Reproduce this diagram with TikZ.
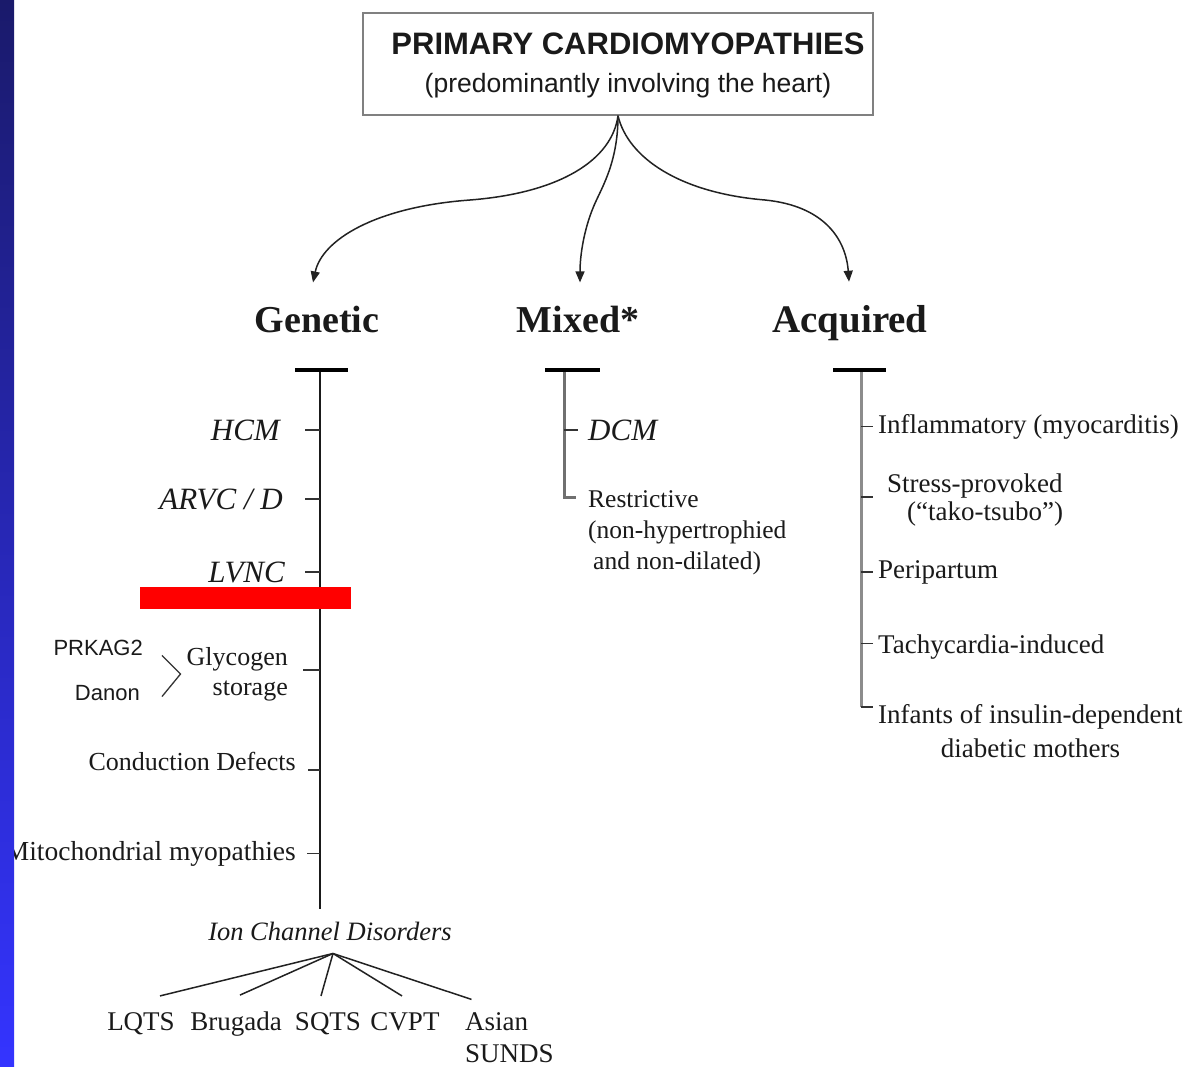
\documentclass[tikz,border=0pt]{standalone}
\usepackage{fontspec}
\setmainfont{Liberation Serif}
\setsansfont{Liberation Sans}
\usetikzlibrary{arrows.meta}
\definecolor{txt}{HTML}{1A1A1A}
\definecolor{lin}{HTML}{222222}
\definecolor{tk}{HTML}{333333}
\definecolor{gsp}{HTML}{1A1A1A}
\definecolor{msp}{HTML}{707070}
\definecolor{asp}{HTML}{8C8C8C}
\definecolor{boxline}{HTML}{808080}
\definecolor{stripTop}{HTML}{1A1A6B}
\definecolor{stripBot}{HTML}{3434FF}
\begin{document}
\begin{tikzpicture}[x=1pt,y=-1pt,
  lab/.style={inner sep=0pt, text=txt, font=\fontsize{26}{30}\selectfont},
  itl/.style={lab, font=\fontsize{31}{36}\selectfont\itshape},
  acql/.style={lab, font=\fontsize{27}{28}\selectfont},
  head/.style={inner sep=0pt, text=txt, font=\fontsize{38}{44}\selectfont\bfseries},
  sfl/.style={lab, font=\fontsize{22}{26}\selectfont\sffamily},
  titlebox/.style={draw=boxline, line width=1.5pt, fill=white, inner sep=0pt,
    minimum width=510pt, minimum height=102pt, text=txt,
    font=\fontsize{26.5}{38}\selectfont\sffamily},
  arr/.style={draw=lin, line width=1.5pt, -{Triangle[width=9pt,length=11pt]}},
  tbar/.style={draw=black, line width=4.5pt},
  tick/.style={draw=tk, line width=1.6pt},
  fan/.style={draw=lin, line width=1.5pt},
  brace/.style={draw=tk, line width=1.3pt},
  gspine/.style={draw=gsp, line width=2pt},
  mspine/.style={draw=msp, line width=3pt},
  aspine/.style={draw=asp, line width=3pt},
]
\fill[white] (0,0) rectangle (1186,1067);
\useasboundingbox (0,0) rectangle (1186,1067);

% ---------- title ----------
\node[titlebox] (title) at (618,64) {\begin{tabular}{@{\hspace{20pt}}c@{}}\rule{0pt}{31.4pt}{\fontsize{31}{38}\selectfont\bfseries PRIMARY CARDIOMYOPATHIES}\\(predominantly involving the heart)\end{tabular}};

% ---------- headings ----------
\node[head, anchor=base] (gen) at (317,332) {Genetic};
\node[head, anchor=base] (mix) at (578,332) {Mixed*};
\node[head, anchor=base, font=\fontsize{39}{44}\selectfont\bfseries] (acq) at (850,332) {Acquired};

\draw[arr] (title.south) .. controls (612,160) and (560,193) .. (470,200)
  .. controls (375,207) and (322,240) .. ([xshift=-4pt,yshift=23pt]gen.north);
\draw[arr] (title.south) .. controls (618,165) and (600,190) .. (593,208)
  .. controls (584,230) and (580,255) .. ([xshift=2pt,yshift=23pt]mix.north);
\draw[arr] (title.south) .. controls (628,158) and (680,193) .. (765,200)
  .. controls (825,206) and (846,240) .. ([xshift=-1pt,yshift=23pt]acq.north);

% ---------- genetic ----------
\node[itl, anchor=base east] (hcm) at (280,440) {HCM};
\node[itl, anchor=base east] (arvc) at (283,509) {ARVC / D};
\node[itl, anchor=base east] (lvnc) at (285,582) {LVNC};
\node[lab, anchor=base east] (gly) at (288,665) {\begin{tabular}[t]{@{}r@{}}Glycogen\\storage\end{tabular}};
\node[sfl, anchor=base east] (prk) at (143,655) {PRKAG2};
\node[sfl, anchor=base east] (dan) at (140,700) {Danon};
\node[lab, anchor=base east] (cd) at (296,770) {Conduction Defects};
\node[lab, anchor=base east, font=\fontsize{27.5}{30}\selectfont] (mito) at (296,860) {Mitochondrial myopathies};
\node[lab, anchor=base, font=\fontsize{26.5}{30}\selectfont\itshape] (ion) at (330,940) {Ion Channel Disorders};

\coordinate (gtop) at (320,370);
\coordinate (gbot) at ([xshift=-10pt,yshift=12pt]ion.north);
\draw[gspine] (gtop) -- (gbot);
\draw[tbar] (295,370) -- (348,370);

\draw[tick] (hcm.east -| gtop) -- ++(-15,0);
\draw[tick] (arvc.east -| gtop) -- ++(-15,0);
\draw[tick] (lvnc.east -| gtop) -- ++(-15,0);
\draw[tick] ([yshift=4pt]gly.east -| gtop) -- ++(-17,0);
\draw[tick] (cd.base -| gtop) -- ++(-12,0);
\draw[tick] (mito.east -| gtop) -- ++(-13,0);

\draw[brace] ([xshift=19pt,yshift=-8pt]prk.east) -- ([xshift=-6pt]gly.west) -- ([xshift=22pt,yshift=-4pt]dan.east);

\fill[red] (140,587) rectangle (351,609);

% ion channel fan
\node[acql, anchor=base] (lqts) at (141,1030) {LQTS};
\node[acql, anchor=base] (brug) at (236,1030) {Brugada};
\node[acql, anchor=base] (sqts) at (328,1030) {SQTS};
\node[acql, anchor=base] (cvpt) at (405,1030) {CVPT};
\node[acql, anchor=base west, font=\fontsize{27}{32}\selectfont] (asian) at (465,1030) {\begin{tabular}[t]{@{}l@{}}Asian\\SUNDS\end{tabular}};
\coordinate (apex) at ([xshift=3pt,yshift=-13pt]ion.south);
\draw[fan] (apex) -- ([xshift=19pt,yshift=16pt]lqts.north);
\draw[fan] (apex) -- ([xshift=4pt,yshift=16pt]brug.north);
\draw[fan] (apex) -- ([xshift=-7pt,yshift=16pt]sqts.north);
\draw[fan] (apex) -- ([xshift=-3pt,yshift=16pt]cvpt.north);
\draw[fan] (apex) -- ([xshift=-38pt,yshift=8pt]asian.north);

% ---------- mixed ----------
\node[itl, anchor=base west] (dcm) at (588,440) {DCM};
\node[lab, anchor=base west, font=\fontsize{25.5}{31}\selectfont] (rst) at (588,507) {\begin{tabular}[t]{@{}l@{}}Restrictive\\(non-hypertrophied\\\hspace{5pt}and non-dilated)\end{tabular}};
\coordinate (mtop) at (564,370);
\coordinate (rstc) at ([xshift=-12pt,yshift=10pt]rst.base west);
\draw[mspine] (mtop) -- (mtop |- rstc) -- (rstc);
\draw[tick] (dcm.west -| mtop) -- ++(14,0);
\draw[tbar] (545,370) -- (600,370);

% ---------- acquired ----------
\node[acql, anchor=base west] (infl) at (878,433) {Inflammatory (myocarditis)};
\node[acql, anchor=base west] (stress) at (887,492) {\begin{tabular}[t]{@{}l@{}}Stress-provoked\\\hspace{20pt}(“tako-tsubo”)\end{tabular}};
\node[acql, anchor=base west] (peri) at (878,578) {Peripartum};
\node[acql, anchor=base west] (tachy) at (878,653) {Tachycardia-induced};
\node[acql, anchor=base west, font=\fontsize{27}{34}\selectfont] (inf) at (878,723) {\begin{tabular}[t]{@{}c@{}}Infants of insulin-dependent\\diabetic mothers\end{tabular}};
\coordinate (atop) at (861,370);
\coordinate (infc) at ([xshift=-5pt,yshift=16pt]inf.base west);
\draw[aspine] (atop) -- (atop |- infc);
\draw[tick] (atop |- infc) -- (infc);
\draw[tick] (infl.west -| atop) -- ++(12,0);
\draw[tick] ([yshift=-5pt]stress.base west -| atop) -- ++(12,0);
\draw[tick] (peri.west -| atop) -- ++(12,0);
\draw[tick] ([yshift=3pt]tachy.west -| atop) -- ++(12,0);
\draw[tbar] (833,370) -- (886,370);

% ---------- left strip ----------
\shade[top color=stripTop, bottom color=stripBot] (0,0) rectangle (14,1067);
\end{tikzpicture}
\end{document}
